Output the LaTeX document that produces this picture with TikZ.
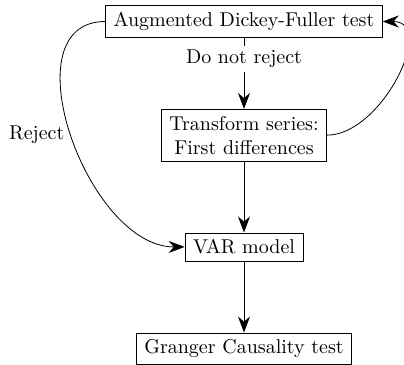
\documentclass[tikz,border=0pt]{standalone}
\usetikzlibrary{arrows.meta, positioning}

\begin{document}
\begin{tikzpicture}[
    node distance=1.25cm,
    box/.style={
        draw,
        align=center,
        inner xsep=4pt
    },
    arrow/.style={-{Stealth[length=8pt, width=6pt]}},
    label/.style={fill=white, inner sep=2pt}
]

\useasboundingbox (0,0) rectangle (202pt,-182.5pt);

% Steps
\node[box] at (122pt,-10.75pt) (adf_test) {Augmented Dickey-Fuller test};
\node[box, below=of adf_test] (transform) {Transform series:\\First differences};
\node[box, below=of transform] (var_model) {VAR model};
\node[box, below=of var_model] (granger_test) {Granger Causality test};

% Main flow
\draw[arrow] (adf_test) -- (transform)
    node[label, pos=0.3] {Do not reject};
\draw[arrow] (transform) -- (var_model);
\draw[arrow] (var_model) -- (granger_test);

% Side paths
\draw[arrow] (adf_test.west) to[out=180, in=180, looseness=1.05]
    node[midway, left] {Reject} (var_model.west);
\draw[arrow] (transform.east) to[out=0, in=0, looseness=1.1] (adf_test.east);

\end{tikzpicture}
\end{document}
